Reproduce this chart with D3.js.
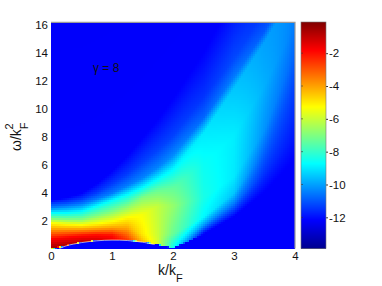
<!DOCTYPE html>
<html><head><meta charset="utf-8">
<script src="https://cdn.jsdelivr.net/npm/d3@7"></script>
<style>html,body{margin:0;background:#fff}svg{display:block}text{font-family:"Liberation Sans",Arial,sans-serif;fill:#111}</style>
</head><body><svg id="c" width="382" height="286"></svg>
<script>
// Wavevector columns at which the feature curves below were read.
const kCols     = [0, .25, .5, .75, 1, 1.25, 1.5, 1.75, 2, 2.5, 3, 3.5, 4];
// Frequency of each feature curve, bottom to top, and log-intensity along it.
const wFloor    = [-1,-1,-1,-1,-1,-1,-1,-1,-1,-1,-1,-1,-1];
const vFloor    = [-12.2,-12.2,-12.2,-12.2,-12.2,-12.2,-12.2,-12.2,-12.2,-12.2,-12.2,-12.2,-12.2];
const wArcLow   = [-.2,.17,.40,.53,.58,.54,.42,.23,0,.95,2.2,3.95,6.25];
const vArcLow   = [-12.2,-12.2,-12.2,-12.2,-12.2,-12.2,-12.2,-12.2,-12.2,-12.2,-12.2,-12.2,-12.2];
const wArcHigh  = [0,.2,.43,.56,.61,.6,.47,.28,.03,1,2.25,4,6.3];
const vArcHigh  = [-.6,-.7,-.9,-1.2,-1.6,-2.6,-4.3,-5.8,-8.5,-12.2,-12.2,-12.2,-12.2];
const wRed      = [.6,.75,.9,.95,.95,.85,.65,.5,.3,1.6,3.2,5.4,8];
const vRed      = [-1.7,-1.8,-2,-2,-2.1,-3,-4.6,-5.9,-8.3,-10.2,-10.5,-11.5,-11.9];
const wOrange   = [1.35,1.35,1.35,1.4,1.45,1.4,1,1,1,2.2,3.9,7,11.6];
const vOrange   = [-4,-4,-4,-4,-4,-4,-5,-6,-7.3,-8.8,-9.5,-10.8,-11.3];
const wYellow   = [1.8,1.7,1.66,1.75,1.9,2.15,2.4,3,3,3.6,5.1,8.4,14];
const vYellow   = [-5.3,-5.3,-5.3,-5.3,-5.3,-5.2,-5.4,-6.1,-6.7,-8.4,-9,-10.2,-10.8];
const wGreen    = [2.1,2.05,2.05,2.3,2.6,3,3.6,4.1,4.3,6,8,11.6,16];
const vGreen    = [-7,-7,-7,-7,-7,-7,-7,-7.3,-7.4,-8.6,-8.95,-9.8,-10.5];
const wCyan     = [2.5,2.5,2.6,3,3.4,3.8,4.3,4.95,5.7,8.2,11.4,14.7,18.4];
const vCyan     = [-8.7,-8.7,-8.7,-8.7,-8.7,-8.7,-8.7,-8.8,-8.9,-9,-9.5,-10,-10.3];
const wSky      = [2.9,3,3.15,3.5,3.9,4.45,5,5.75,6.6,9.3,12.2,15.5,19.2];
const vSky      = [-10.5,-10.5,-10.5,-10.5,-10.5,-10.5,-10.4,-10.4,-10.3,-10.8,-10.5,-11,-11];
const wDeep     = [3.2,3.3,3.5,3.95,4.6,5.3,6.1,7,8,10.8,13.5,17,20.5];
const vDeep     = [-11.4,-11.4,-11.4,-11.4,-11.4,-11.4,-11.3,-11.3,-11.3,-11.5,-11.2,-11.5,-11.5];
const wBlue     = [3.4,3.6,3.9,4.6,5.5,6.6,7.9,9.2,10.7,14,18,22,26];
const vBlue     = [-12.2,-12.2,-12.2,-12.2,-12.2,-12.2,-12.2,-12.2,-12.2,-12.2,-12.2,-12.2,-12.2];
const wCeil     = [40,40,40,40,40,40,40,40,40,40,40,40,40];
const vCeil     = [-12.3,-12.3,-12.3,-12.3,-12.3,-12.3,-12.3,-12.3,-12.3,-12.3,-12.3,-12.3,-12.3];
// Edge of the forbidden region, drawn as a pale curve.
const arcK      = [.14,.25,.5,.75,1,1.25,1.5,1.7];
const arcW      = [0,.19,.42,.55,.6,.57,.45,.28];
// Ticks and labels.
const xTicks    = [0,1,2,3,4];
const yTicks    = [2,4,6,8,10,12,14,16];
const barTicks  = [-2,-4,-6,-8,-10,-12];
const vMin = -13.9, vMax = -0.1;
const wMax = 16.15;
const jetStops  = [0,.125,.375,.625,.875,1];
const jetColors = ["#00008f","#0000ff","#00ffff","#ffff00","#ff0000","#800000"];
const annotation = "γ = 8";

const wCurves = [wFloor,wArcLow,wArcHigh,wRed,wOrange,wYellow,wGreen,wCyan,wSky,wDeep,wBlue,wCeil];
const vCurves = [vFloor,vArcLow,vArcHigh,vRed,vOrange,vYellow,vGreen,vCyan,vSky,vDeep,vBlue,vCeil];

const svg = d3.select("#c");
const x = d3.scaleLinear().domain([0,4]).range([51,295]);
const y = d3.scaleLinear().domain([0,16]).range([248.5,24.5]);
const jet = d3.scaleLinear().domain(jetStops.map(t=>vMin+t*(vMax-vMin))).range(jetColors).clamp(true);

// Heat map cells
const step = 2;
const xs = d3.range(x(0), x(4), step), ys = d3.range(y(wMax), y(0), step);
const alongK = c => d3.scaleLinear().domain(kCols).range(c);
const wAt = wCurves.map(alongK), vAt = vCurves.map(alongK);
const cells = [];
xs.forEach(px=>{
  const k = x.invert(px+step/2);
  const profile = d3.scaleLinear().domain(wAt.map(f=>f(k))).range(vAt.map(f=>f(k)));
  ys.forEach(py=>cells.push({px,py,v:profile(y.invert(py+step/2))}));
});
svg.append("g").attr("shape-rendering","crispEdges").selectAll("rect").data(cells).join("rect")
  .attr("x",d=>d.px).attr("y",d=>d.py)
  .attr("width",d=>Math.min(step,x(4)-d.px)).attr("height",d=>Math.min(step,y(0)-d.py))
  .attr("fill",d=>jet(d.v));

// pale edge of the arc
svg.append("path").datum(arcK.map((k,i)=>[k,arcW[i]]))
  .attr("d",d3.line().x(d=>x(d[0])).y(d=>y(d[1])).curve(d3.curveCatmullRom))
  .attr("fill","none").attr("stroke","#fff6c8").attr("stroke-width",.8).attr("stroke-opacity",.85);

// frame: only the top and right edges show
svg.append("path").attr("d",`M${x(0)},${y(wMax)}H${x(4)}V${y(0)}`)
  .attr("fill","none").attr("stroke","#999").attr("stroke-width",1.2);

// axes
const xAxis = d3.axisBottom(x).tickValues(xTicks).tickSize(0).tickPadding(3).tickFormat(d3.format("d"));
const gx = svg.append("g").attr("transform",`translate(0,${y(0)})`).call(xAxis);
gx.select(".domain").remove(); gx.selectAll("text").attr("font-size",11.5);
const yAxis = d3.axisLeft(y).tickValues(yTicks).tickSize(0).tickPadding(3).tickFormat(d3.format("d"));
const gy = svg.append("g").attr("transform",`translate(${x(0)},0)`).call(yAxis);
gy.select(".domain").remove(); gy.selectAll("text").attr("font-size",11.5);

// axis titles
const xt = svg.append("text").attr("x",158).attr("y",275).attr("font-size",14);
xt.append("tspan").text("k/k");
xt.append("tspan").attr("dy",7).attr("font-size",11).text("F");
const yt = svg.append("text").attr("transform","translate(21,151) rotate(-90)").attr("font-size",14);
yt.append("tspan").text("ω/k");
yt.append("tspan").attr("dy",7).attr("font-size",11).text("F");
yt.append("tspan").attr("dy",-15).attr("dx",-7).attr("font-size",11).text("2");

svg.append("text").attr("x",93).attr("y",71.5).attr("font-size",12).text(annotation);

// colour bar
const bar = d3.scaleLinear().domain([vMax,vMin]).range([22,248.5]);
const bx0 = 301, bw = 25;
svg.append("g").attr("shape-rendering","crispEdges").selectAll("rect")
  .data(d3.range(22,248.5,1)).join("rect")
  .attr("x",bx0).attr("y",d=>d).attr("width",bw).attr("height",1.2)
  .attr("fill",d=>jet(bar.invert(d+.5)));
const by = d3.axisRight(bar).tickValues(barTicks).tickSize(2).tickPadding(1).tickFormat(d=>"-"+Math.abs(d));
const gb = svg.append("g").attr("transform",`translate(${bx0+bw},0)`).call(by);
gb.select(".domain").remove(); gb.selectAll("text").attr("font-size",11.5);
gb.selectAll("line").attr("stroke","#333");
svg.append("g").selectAll("line").data(barTicks).join("line")
  .attr("x1",bx0).attr("x2",bx0+2).attr("y1",d=>bar(d)).attr("y2",d=>bar(d)).attr("stroke","#333").attr("stroke-width",.6);
svg.append("rect").attr("x",bx0).attr("y",22).attr("width",bw).attr("height",226.5)
  .attr("fill","none").attr("stroke","#777").attr("stroke-width",.6);
</script></body></html>
